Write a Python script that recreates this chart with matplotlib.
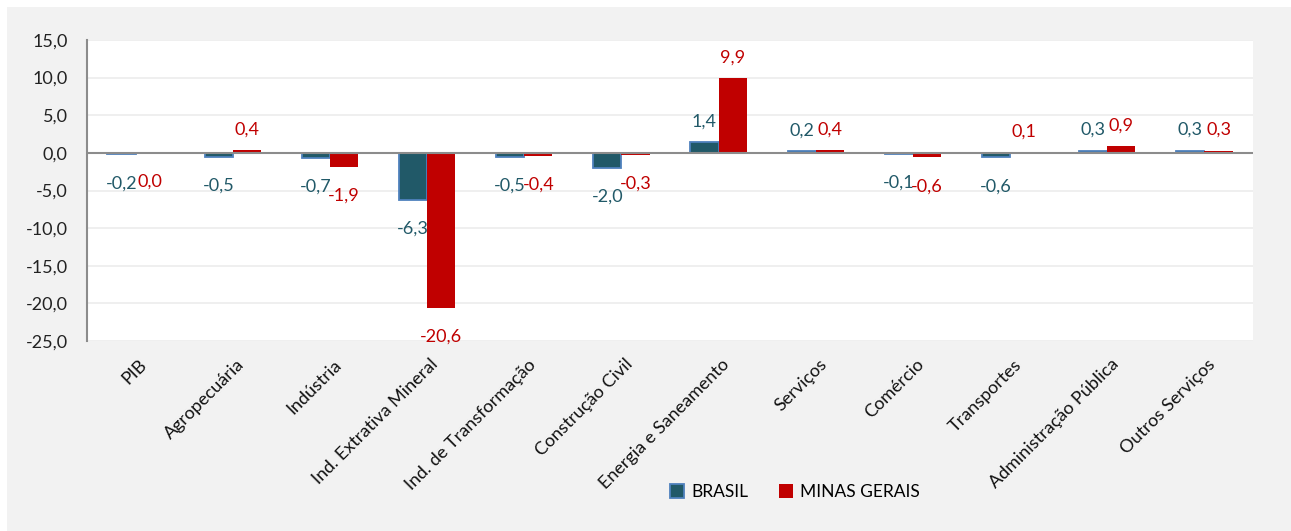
import matplotlib
matplotlib.use("Agg")
import matplotlib.pyplot as plt
from matplotlib.patches import Rectangle, Patch
from matplotlib.transforms import ScaledTranslation
import numpy as np

categories = ["PIB", "Agropecuária", "Indústria", "Ind. Extrativa Mineral",
              "Ind. de Transformação", "Construção Civil", "Energia e Saneamento",
              "Serviços", "Comércio", "Transportes", "Administração Pública",
              "Outros Serviços"]
brasil = [-0.2, -0.5, -0.7, -6.3, -0.5, -2.0, 1.4, 0.2, -0.1, -0.6, 0.3, 0.3]
minas = [0.0, 0.4, -1.9, -20.6, -0.4, -0.3, 9.9, 0.4, -0.6, 0.1, 0.9, 0.3]
yticks = [15, 10, 5, 0, -5, -10, -15, -20, -25]

plt.rcParams['font.family'] = ['Lato', 'DejaVu Sans']

W, H = 1291, 531
fig = plt.figure(figsize=(W / 100, H / 100), dpi=100, facecolor='white')
fig.patches.append(Rectangle((7 / W, 0), 1, 1 - 7 / H, transform=fig.transFigure,
                             facecolor='#f2f2f2', edgecolor='none', zorder=-10))

ax = fig.add_axes([87 / W, 1 - 341 / H, (1253 - 87) / W, (341 - 40) / H])
ax.set_facecolor('white')

x = np.arange(len(categories))
bw = 0.29
c_br = '#215968'
c_mg = '#c00000'
ax.bar(x - bw / 2, brasil, bw, color=c_br, edgecolor='#4f81bd', linewidth=1.3, zorder=3)
ax.bar(x + bw / 2, minas, bw, color=c_mg, edgecolor='none', zorder=3)

ax.set_ylim(-25, 15)
ax.set_xlim(-0.5, len(categories) - 0.5)
ax.set_yticks(yticks)
ax.set_yticklabels([f"{v:.1f}".replace('.', ',') for v in yticks], fontsize=13, color='#222222')
ax.yaxis.grid(True, color='#ececec', linewidth=1.2, zorder=0)
ax.set_axisbelow(True)
ax.axhline(0, color='#8c8c8c', linewidth=1.5, zorder=4)
for s in ['top', 'right', 'bottom']:
    ax.spines[s].set_visible(False)
ax.spines['left'].set_color('#8c8c8c')
ax.spines['left'].set_linewidth(1.5)
ax.tick_params(axis='both', length=0)
ax.tick_params(axis='y', pad=14)

ax.set_xticks(x)
ax.set_xticklabels(categories, rotation=45, ha='right', rotation_mode='anchor',
                   fontsize=13, color='#111111')
ax.tick_params(axis='x', pad=11)
offset = ScaledTranslation(3 / 100, 0, fig.dpi_scale_trans)
for lbl in ax.get_xticklabels():
    lbl.set_transform(lbl.get_transform() + offset)

def fmt(v):
    return f"{v:.1f}".replace('.', ',')

for xs, vals, col in [(x - bw / 2, brasil, '#215968'), (x + bw / 2, minas, '#c00000')]:
    for xi, v in zip(xs, vals):
        if v > 0:
            ax.annotate(fmt(v), (xi, v), xytext=(0, 9), textcoords='offset points',
                        ha='center', va='bottom', fontsize=13, color=col, zorder=5)
        else:
            ax.annotate(fmt(v), (xi, v), xytext=(0, -15), textcoords='offset points',
                        ha='center', va='top', fontsize=13, color=col, zorder=5)

handles = [Patch(facecolor=c_br, edgecolor='#4f81bd', linewidth=1.3),
           Patch(facecolor=c_mg, edgecolor='none')]
fig.legend(handles, ['BRASIL', 'MINAS GERAIS'], loc='center', ncol=2,
           bbox_to_anchor=(795 / W, 1 - 492 / H), frameon=False, fontsize=12.5,
           handlelength=0.8, handleheight=0.8, handletextpad=0.4, columnspacing=1.8)

fig.savefig('out.png', dpi=100, facecolor=fig.get_facecolor())
